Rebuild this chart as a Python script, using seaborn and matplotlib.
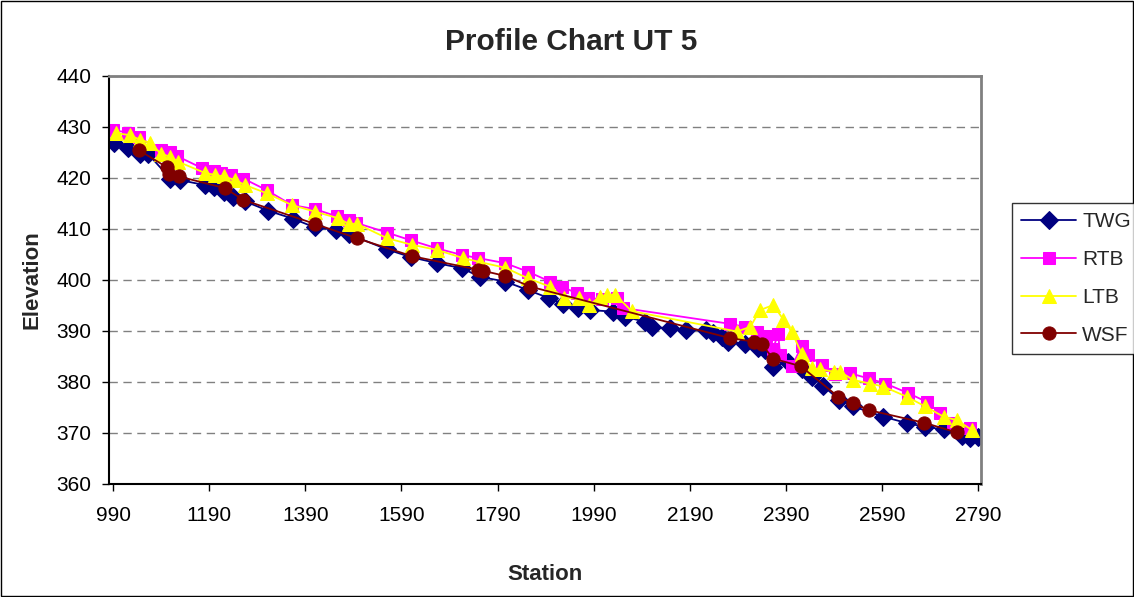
import matplotlib
matplotlib.use("Agg")
import matplotlib.pyplot as plt
from matplotlib.patches import Rectangle
import pandas as pd
import seaborn as sns

# Thalweg (TWG)
twg_station = [991, 1020, 1046, 1063, 1109, 1129, 1181, 1199, 1220, 1240, 1265, 1312,
               1365, 1410, 1454, 1480, 1560, 1609, 1664, 1716, 1754, 1806, 1854, 1898,
               1927, 1958, 1983, 2031, 2055, 2097, 2111, 2149, 2182, 2224, 2239, 2257,
               2270, 2305, 2333, 2347, 2364, 2395, 2423, 2444, 2468, 2501, 2530, 2593,
               2643, 2680, 2718, 2756, 2773, 2790]
twg_elev = [426.8, 425.9, 424.8, 424.7, 419.9, 419.6, 418.6, 418.2, 417.3, 416.3, 415.4, 413.6,
            412.0, 410.3, 409.8, 409.0, 406.0, 404.5, 403.3, 402.3, 400.6, 399.7, 398.0, 396.4,
            395.3, 394.6, 394.1, 393.8, 392.8, 391.8, 390.8, 390.5, 390.2, 390.2, 389.7, 388.9,
            387.9, 387.5, 386.6, 386.3, 383.0, 384.0, 382.5, 381.0, 379.2, 376.5, 375.2, 373.2,
            371.9, 371.2, 370.7, 369.4, 369.0, 369.2]

# Right top of bank (RTB)
rtb_station = [989, 1022, 1044, 1090, 1109, 1123, 1176, 1199, 1215, 1236, 1261, 1310,
               1362, 1410, 1455, 1480, 1496, 1560, 1609, 1664, 1716, 1750, 1806, 1854,
               1899, 1924, 1955, 1979, 2007, 2038, 2052, 2274, 2305, 2330, 2349, 2363,
               2374, 2378, 2403, 2423, 2436, 2465, 2492, 2524, 2562, 2597, 2645, 2683,
               2711, 2738, 2773]
rtb_elev = [429.4, 428.9, 428.0, 425.4, 425.0, 424.3, 421.9, 421.4, 421.0, 420.6, 419.9, 417.6,
            414.7, 413.9, 412.5, 411.8, 411.2, 409.3, 407.8, 406.2, 404.9, 404.3, 403.3, 401.6,
            399.7, 398.7, 397.4, 396.4, 396.3, 396.4, 394.5, 391.4, 390.8, 389.8, 389.0, 386.5,
            389.4, 385.3, 383.1, 387.1, 385.3, 383.3, 381.6, 381.7, 380.7, 379.7, 377.8, 376.1,
            373.9, 371.9, 370.9]

# Left top of bank (LTB)
ltb_station = [996, 1025, 1046, 1067, 1090, 1109, 1125, 1181, 1202, 1220, 1244, 1265,
               1310, 1362, 1410, 1459, 1480, 1498, 1560, 1612, 1664, 1718, 1754, 1806,
               1854, 1899, 1928, 1960, 1981, 2003, 2018, 2035, 2069, 2288, 2316, 2336,
               2364, 2385, 2402, 2423, 2444, 2461, 2490, 2503, 2530, 2565, 2593, 2642,
               2680, 2718, 2746, 2777]
ltb_elev = [428.8, 428.4, 427.5, 426.9, 424.7, 424.2, 423.2, 421.0, 420.6, 420.3, 419.6, 418.6,
            417.0, 414.7, 413.4, 412.1, 411.0, 411.0, 408.2, 406.9, 405.9, 404.3, 403.5, 402.4,
            400.3, 398.7, 396.4, 396.4, 395.1, 396.7, 397.1, 397.1, 393.9, 389.9, 390.8, 394.1,
            395.1, 392.2, 389.9, 385.5, 382.7, 382.5, 382.0, 382.0, 380.4, 379.7, 379.1, 377.1,
            375.2, 373.2, 372.5, 370.6]

# Water surface (WSF)
wsf_station = [1043, 1102, 1107, 1127, 1223, 1261, 1410, 1497, 1611, 1750, 1760, 1806,
               1858, 2274, 2324, 2340, 2363, 2421, 2499, 2529, 2562, 2678, 2746]
wsf_elev = [425.5, 422.1, 420.8, 420.3, 418.0, 415.7, 411.0, 408.2, 404.7, 402.0, 401.8, 400.8,
            398.7, 388.6, 387.9, 387.4, 384.6, 383.1, 377.1, 375.9, 374.5, 372.0, 370.1]

x_ticks = [990, 1190, 1390, 1590, 1790, 1990, 2190, 2390, 2590, 2790]
y_ticks = [360, 370, 380, 390, 400, 410, 420, 430, 440]

series = [
    ("TWG", twg_station, twg_elev, "#000080", "D", 9.5),
    ("RTB", rtb_station, rtb_elev, "#FF00FF", "s", 8.5),
    ("LTB", ltb_station, ltb_elev, "#FFFF00", "^", 10.5),
    ("WSF", wsf_station, wsf_elev, "#800000", "o", 9.5),
]

sns.set_theme(style="white")
plt.rcParams["font.family"] = ["Liberation Sans", "DejaVu Sans"]

fig = plt.figure(figsize=(11.34, 5.97), dpi=100)
ax = fig.add_axes([0.0957, 0.1893, 0.7698, 0.6834])

for name, xs, ys, color, marker, ms in series:
    df = pd.DataFrame({"Station": xs, "Elevation": ys})
    sns.lineplot(data=df, x="Station", y="Elevation", ax=ax, sort=False,
                 color=color, marker=marker, markersize=ms,
                 markeredgecolor=color, markerfacecolor=color,
                 linewidth=1.3, label=name, legend=False)

ax.set_xlim(980.5, 2797)
ax.set_ylim(360, 440)
ax.set_xticks(x_ticks)
ax.set_yticks(y_ticks)
ax.tick_params(axis="both", labelsize=15, colors="black", direction="out",
               length=5, width=1)
ax.tick_params(axis="x", pad=11)
ax.tick_params(axis="y", pad=7.5)
ax.xaxis.set_ticks_position("bottom")
ax.yaxis.set_ticks_position("left")
ax.yaxis.grid(True, color="#808080", linestyle=(0, (6, 4)), linewidth=1)
ax.xaxis.grid(False)
ax.set_axisbelow(True)

for side in ["top", "right"]:
    ax.spines[side].set_color("#808080")
    ax.spines[side].set_linewidth(2)
for side in ["left", "bottom"]:
    ax.spines[side].set_color("black")
    ax.spines[side].set_linewidth(1.5)

ax.set_xlabel("")
ax.set_ylabel("")
fig.text(0.5035, 0.93, "Profile Chart UT 5", ha="center", va="center",
         fontsize=21.5, fontweight="bold")
fig.text(0.4806, 0.037, "Station", ha="center", va="center",
         fontsize=16, fontweight="bold")
fig.text(0.028, 0.531, "Elevation", ha="center", va="center",
         fontsize=16, fontweight="bold", rotation=90)

handles, labels = ax.get_legend_handles_labels()
leg = fig.legend(handles, labels, loc="upper left", bbox_to_anchor=(0.892, 0.66),
                 frameon=True, fancybox=False, fontsize=15, handlelength=2.65,
                 labelspacing=0.9, borderaxespad=0, borderpad=0.45, handletextpad=0.3)
leg.get_frame().set_edgecolor("black")
leg.get_frame().set_linewidth(1)

fig.patches.append(Rectangle((0.0005, 0.001), 0.999, 0.998, transform=fig.transFigure,
                             fill=False, edgecolor="black", linewidth=1))

fig.savefig("out.png", dpi=100)
